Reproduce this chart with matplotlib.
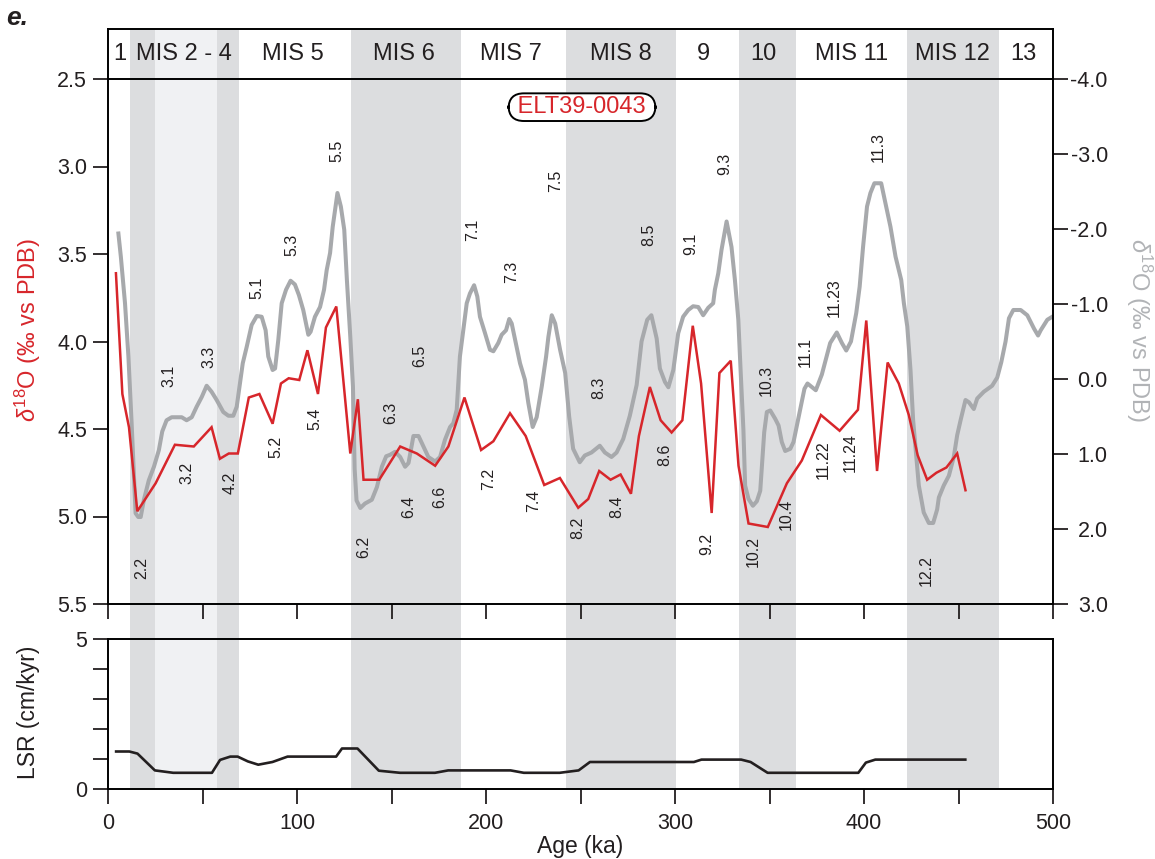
import numpy as np
import matplotlib.pyplot as plt

plt.rcParams['font.family'] = ['Liberation Sans', 'DejaVu Sans']
plt.rcParams['mathtext.fontset'] = 'custom'
plt.rcParams['mathtext.rm'] = 'Liberation Sans'
plt.rcParams['mathtext.it'] = 'Liberation Sans:italic'
plt.rcParams['axes.unicode_minus'] = False

RED = '#d7262b'
GREY = '#a7a9ac'
DARK = '#231f20'

# benthic d18O of core ELT39-0043 (left axis)
elt_age = [4.2, 7.6, 11.1, 15.5, 25.2, 35.4, 45.4, 54.8, 59.2, 63.9, 68.7, 74.5, 80.1, 87.1,
           91.5, 95.6, 101.2, 105.5, 111.1, 115.3, 120.8, 128.2, 132.2, 135.2, 143.5, 154.6,
           163.4, 173.1, 180.1, 188.6, 197.4, 203.9, 212.7, 221.0, 230.8, 239.1, 248.8, 254.1,
           259.9, 265.9, 271.2, 276.7, 280.9, 286.7, 292.4, 298.2, 303.9, 309.4, 313.8, 319.4,
           323.5, 329.5, 333.6, 338.9, 349.1, 359.2, 367.1, 377.2, 387.1, 396.8, 401.2, 406.9,
           412.5, 418.4, 423.7, 428.4, 433.4, 438.3, 443.6, 449.3, 453.7]
elt_d18o = [3.61, 4.30, 4.49, 4.97, 4.81, 4.59, 4.60, 4.49, 4.67, 4.64, 4.64, 4.32, 4.30, 4.47,
            4.24, 4.21, 4.22, 4.05, 4.30, 3.92, 3.80, 4.64, 4.33, 4.79, 4.79, 4.60,
            4.64, 4.71, 4.60, 4.32, 4.62, 4.57, 4.41, 4.54, 4.82, 4.78, 4.95, 4.90,
            4.74, 4.79, 4.76, 4.87, 4.54, 4.26, 4.45, 4.52, 4.45, 3.91, 4.24, 4.98,
            4.18, 4.11, 4.71, 5.04, 5.06, 4.81, 4.68, 4.42, 4.51, 4.39, 3.88, 4.74,
            4.12, 4.24, 4.42, 4.65, 4.79, 4.75, 4.72, 4.64, 4.85]

# reference stack (right axis)
stack_age = [5.5, 6.8, 9.0, 10.8, 12.5, 14.6, 16.0, 17.3, 19.0, 21.6, 24.3, 26.9, 28.7, 31.0,
             33.7, 39.0, 41.6, 44.3, 46.9, 49.6, 52.2, 54.8, 57.5, 61.0, 63.7, 66.3, 68.1,
             71.3, 73.4, 76.0, 78.7, 81.3, 83.4, 84.8, 87.1, 88.4, 90.1, 91.9, 94.2, 96.6,
             98.9, 101.0, 103.3, 106.0, 107.2, 109.5, 112.2, 114.3, 115.7, 117.5, 118.9, 121.4,
             123.2, 125.0, 126.4, 128.2, 129.6, 130.5, 131.5, 133.5, 136.0, 139.6, 142.3, 144.9,
             147.2, 149.3, 151.9, 154.6, 157.2, 159.0, 161.6, 164.3, 166.9, 169.5, 173.1, 175.7,
             178.3, 181.0, 182.7, 184.5, 186.2, 188.0, 189.8, 191.5, 193.7, 195.4, 196.8, 199.5,
             202.1, 203.9, 206.5, 208.3, 210.6, 212.3, 213.6, 216.2, 218.0, 220.6, 222.4, 224.7,
             226.8, 229.5, 231.8, 233.0, 234.8, 236.6, 239.2, 241.9, 244.0, 246.1, 249.6, 252.3,
             255.8, 260.2, 262.9, 266.4, 269.1, 272.6, 276.1, 279.7, 282.3, 285.3, 287.5, 290.3,
             292.0, 294.7, 296.5, 299.1, 301.7, 304.3, 307.0, 309.6, 312.3, 314.9, 317.6, 320.2,
             321.1, 322.9, 324.6, 327.3, 329.9, 331.7, 333.5, 334.7, 336.2, 337.1, 338.9, 341.2,
             343.3, 345.1, 346.0, 347.2, 348.6, 350.4, 353.0, 354.8, 356.5, 358.3, 361.0, 362.7,
             364.8, 367.1, 368.5, 370.1, 374.5, 377.7, 380.3, 382.1, 385.6, 388.3, 390.6, 393.1,
             395.9, 397.7, 399.5, 401.6, 403.4, 405.5, 409.1, 411.4, 414.0, 416.7, 419.7, 421.1,
             422.9, 424.6, 426.0, 429.0, 431.6, 434.3, 436.6, 438.7, 439.6, 442.2, 444.9, 447.5,
             449.3, 451.1, 453.7, 455.5, 458.1, 459.9, 463.4, 467.8, 470.5, 472.6, 474.9, 476.7,
             479.0, 482.9, 486.4, 490.0, 492.1, 493.5, 497.0, 499.6]
stack_d18o = [-1.94, -1.63, -1.01, -0.30, 0.59, 1.79, 1.84, 1.84, 1.61, 1.35, 1.17, 0.95, 0.70, 0.55,
              0.51, 0.51, 0.55, 0.51, 0.37, 0.24, 0.09, 0.17, 0.28, 0.44, 0.49, 0.49, 0.37,
              -0.21, -0.43, -0.72, -0.84, -0.83, -0.65, -0.30, -0.12, -0.14, -0.52, -1.01, -1.19, -1.31,
              -1.26, -1.12, -0.92, -0.59, -0.63, -0.83, -0.96, -1.19, -1.45, -1.68, -2.03, -2.48,
              -2.30, -1.99, -1.32, -0.56, 0.10, 1.20, 1.62, 1.72, 1.66, 1.61, 1.44, 1.17,
              1.03, 1.01, 0.97, 1.04, 1.17, 1.12, 0.76, 0.76, 0.90, 1.04, 1.10, 1.04,
              0.81, 0.64, 0.59, 0.41, -0.30, -0.65, -1.01, -1.14, -1.25, -1.10, -0.83, -0.61,
              -0.39, -0.37, -0.48, -0.59, -0.65, -0.80, -0.74, -0.43, -0.21, 0.01, 0.32, 0.64,
              0.51, 0.10, -0.30, -0.56, -0.85, -0.74, -0.39, -0.08, 0.50, 0.93, 1.11, 1.02,
              0.98, 0.89, 0.98, 1.04, 0.98, 0.80, 0.49, 0.08, -0.50, -0.79, -0.85, -0.54,
              -0.14, 0.04, 0.11, -0.12, -0.61, -0.83, -0.92, -0.97, -0.96, -0.85, -0.95, -1.01,
              -1.19, -1.41, -1.72, -2.10, -1.76, -1.32, -0.79, -0.12, 0.68, 1.42, 1.60, 1.69,
              1.63, 1.49, 1.16, 0.71, 0.44, 0.42, 0.53, 0.62, 0.84, 0.96, 0.93, 0.84,
              0.58, 0.30, 0.13, 0.06, 0.15, -0.06, -0.31, -0.48, -0.62, -0.48, -0.38, -0.50,
              -0.88, -1.23, -1.76, -2.30, -2.48, -2.61, -2.61, -2.34, -2.03, -1.63, -1.32, -1.01,
              -0.70, -0.12, 0.55, 1.42, 1.78, 1.92, 1.92, 1.74, 1.58, 1.42, 1.29, 1.04,
              0.75, 0.55, 0.28, 0.31, 0.40, 0.26, 0.17, 0.09, -0.02, -0.22, -0.50, -0.81,
              -0.92, -0.92, -0.85, -0.67, -0.58, -0.65, -0.79, -0.83]

# linear sedimentation rate
lsr_age = [4.3, 11.3, 15.6, 24.8, 34.5, 55.0, 59.3, 64.7, 68.6, 74.0, 79.5, 87.0, 95.0, 120.7,
           123.8, 132.0, 143.3, 154.5, 173.0, 180.0, 213.0, 220.0, 239.0, 249.0, 255.0, 310.0,
           314.0, 335.0, 340.0, 349.0, 397.0, 401.0, 406.0, 453.6]
lsr_val = [1.25, 1.25, 1.18, 0.62, 0.54, 0.54, 0.97, 1.08, 1.08, 0.92, 0.81, 0.9, 1.08, 1.08,
           1.35, 1.35, 0.61, 0.54, 0.54, 0.62, 0.62, 0.54, 0.54, 0.62, 0.9, 0.9,
           0.98, 0.98, 0.9, 0.54, 0.54, 0.88, 0.98, 0.98]

# glacial shading
dark_bands = [(11.6, 25.0), (57.9, 69.5), (128.8, 187.0), (242.1, 300.4), (333.9, 364.0), (422.7, 471.4)]
light_bands = [(25.0, 57.9)]

mis_names = ['1', 'MIS 2 - 4', 'MIS 5', 'MIS 6', 'MIS 7', 'MIS 8', '9', '10', 'MIS 11', 'MIS 12', '13']
mis_age = [6.5, 40.4, 98.0, 156.8, 213.3, 271.3, 314.8, 347.0, 393.4, 447.0, 484.5]

sub_names = ['2.2', '3.1', '3.2', '3.3', '4.2', '5.1', '5.2', '5.3', '5.4', '5.5', '6.2', '6.3',
             '6.4', '6.5', '6.6', '7.1', '7.2', '7.3', '7.4', '7.5', '8.2', '8.3', '8.4', '8.5',
             '8.6', '9.1', '9.2', '9.3', '10.2', '10.3', '10.4', '11.1', '11.22', '11.23',
             '11.24', '11.3', '12.2']
sub_age = [17.8, 32.0, 41.6, 53.5, 64.6, 79.0, 88.7, 97.2, 109.5, 121.2, 135.4, 149.6,
           158.9, 164.7, 175.3, 193.1, 201.2, 213.6, 225.4, 236.8, 248.8, 259.4, 269.1, 286.2,
           294.7, 308.2, 316.8, 326.5, 341.4, 348.3, 358.7, 368.8, 378.5, 384.0,
           392.6, 407.8, 433.2]
sub_y = [5.294, 4.194, 4.75, 4.087, 4.807, 3.693, 4.601, 3.446, 4.439, 2.911, 5.176, 4.405,
         4.944, 4.083, 4.887, 3.363, 4.786, 3.601, 4.911, 3.083, 5.067, 4.267, 4.947, 3.391,
         4.649, 3.44, 5.157, 2.987, 5.201, 4.22, 4.986, 4.058, 4.673, 3.747,
         4.635, 2.889, 5.311]

W, H = 1155, 859
L, R = 108 / W, 945 / W
tick_kw = dict(direction='out', length=11, width=1.3, labelsize=15.5, colors='#231f20')

fig = plt.figure(figsize=(W / 100, H / 100), dpi=100)

# shaded stages behind every panel
bg = fig.add_axes([L, (H - 789) / H, R, 760 / H], zorder=-5)
bg.set_xlim(0, 500)
bg.axis('off')
for a, b in dark_bands:
    bg.axvspan(a, b, color='#dcdddf', lw=0)
for a, b in light_bands:
    bg.axvspan(a, b, color='#f0f1f3', lw=0)

# header strip with stage names
hd = fig.add_axes([L, (H - 79) / H, R, 50 / H])
hd.patch.set_visible(False)
hd.set_xlim(0, 500)
hd.set_ylim(0, 1)
hd.set_xticks([])
hd.set_yticks([])
hd.spines['bottom'].set_visible(False)
for s in ['top', 'left', 'right']:
    hd.spines[s].set_linewidth(1.4)
for name, a in zip(mis_names, mis_age):
    hd.text(a, 0.5, name, ha='center', va='center', fontsize=17, color=DARK)

# d18O panel
ax = fig.add_axes([L, (H - 604) / H, R, 525 / H])
ax2 = ax.twinx()
ax.set_zorder(ax2.get_zorder() + 1)
ax.patch.set_visible(False)
ax2.patch.set_visible(False)

ax2.plot(stack_age, stack_d18o, color=GREY, lw=2.9, solid_joinstyle='round')
ax2.set_ylim(3.0, -4.0)
ax2.set_yticks(np.arange(-4, 3.1, 1.0))
ax2.set_yticklabels(['%.1f' % t for t in np.arange(-4, 3.1, 1.0)])
ax2.tick_params(axis='y', pad=28.5, **tick_kw)
for lab in ax2.get_yticklabels():
    lab.set_horizontalalignment('right')
for s in ax2.spines.values():
    s.set_visible(False)

ax.plot(elt_age, elt_d18o, color=RED, lw=1.8, solid_joinstyle='miter')
ax.set_xlim(0, 500)
ax.set_ylim(5.5, 2.5)
ax.set_yticks(np.arange(2.5, 5.51, 0.5))
ax.set_yticklabels(['%.1f' % t for t in np.arange(2.5, 5.51, 0.5)])
ax.set_xticks(np.arange(0, 501, 50))
ax.set_xticklabels([])
ax.tick_params(axis='y', pad=4, **tick_kw)
ax.tick_params(axis='x', **tick_kw)
for s in ax.spines.values():
    s.set_linewidth(1.4)

for name, a, y in zip(sub_names, sub_age, sub_y):
    ax.text(a, y, name, rotation=90, ha='center', va='center', fontsize=11.5, color=DARK)

ax.text(250.8, 2.661, ' ELT39-0043 ', color=RED, fontsize=17, ha='center', va='center',
        bbox=dict(boxstyle='round,pad=0.12,rounding_size=0.65', fc='white', ec='black', lw=1.4))

# sedimentation rate panel
ax3 = fig.add_axes([L, (H - 789) / H, R, 150 / H])
ax3.patch.set_visible(False)
ax3.plot(lsr_age, lsr_val, color='#231f20', lw=1.9)
ax3.set_xlim(0, 500)
ax3.set_ylim(0, 5)
ax3.set_yticks(range(6))
ax3.set_yticklabels(['0', '', '', '', '', '5'])
ax3.set_xticks(np.arange(0, 501, 50))
ax3.set_xticklabels([str(t) if t % 100 == 0 else '' for t in range(0, 501, 50)])
ax3.tick_params(axis='y', pad=4, **tick_kw)
ax3.tick_params(axis='x', pad=6, **tick_kw)
for s in ax3.spines.values():
    s.set_linewidth(1.4)

fig.text(28 / W, 1 - 330 / H, r'$\delta^{18}$O (‰ vs PDB)', rotation=90, ha='center', va='center',
         fontsize=17, color=RED)
fig.text(1139 / W, 1 - 330 / H, r'$\delta^{18}$O (‰ vs PDB)', rotation=270, ha='center', va='center',
         fontsize=17, color='#b1b3b6')
fig.text(28 / W, 1 - 712 / H, 'LSR (cm/kyr)', rotation=90, ha='center', va='center',
         fontsize=16.5, color=DARK)
fig.text(580 / W, 1 - 846 / H, 'Age (ka)', ha='center', va='center', fontsize=16.5, color=DARK)
fig.text(17 / W, 1 - 18 / H, 'e.', ha='center', va='center', fontsize=19, weight='bold',
         style='italic', color=DARK)

fig.savefig('out.png', dpi=100)
